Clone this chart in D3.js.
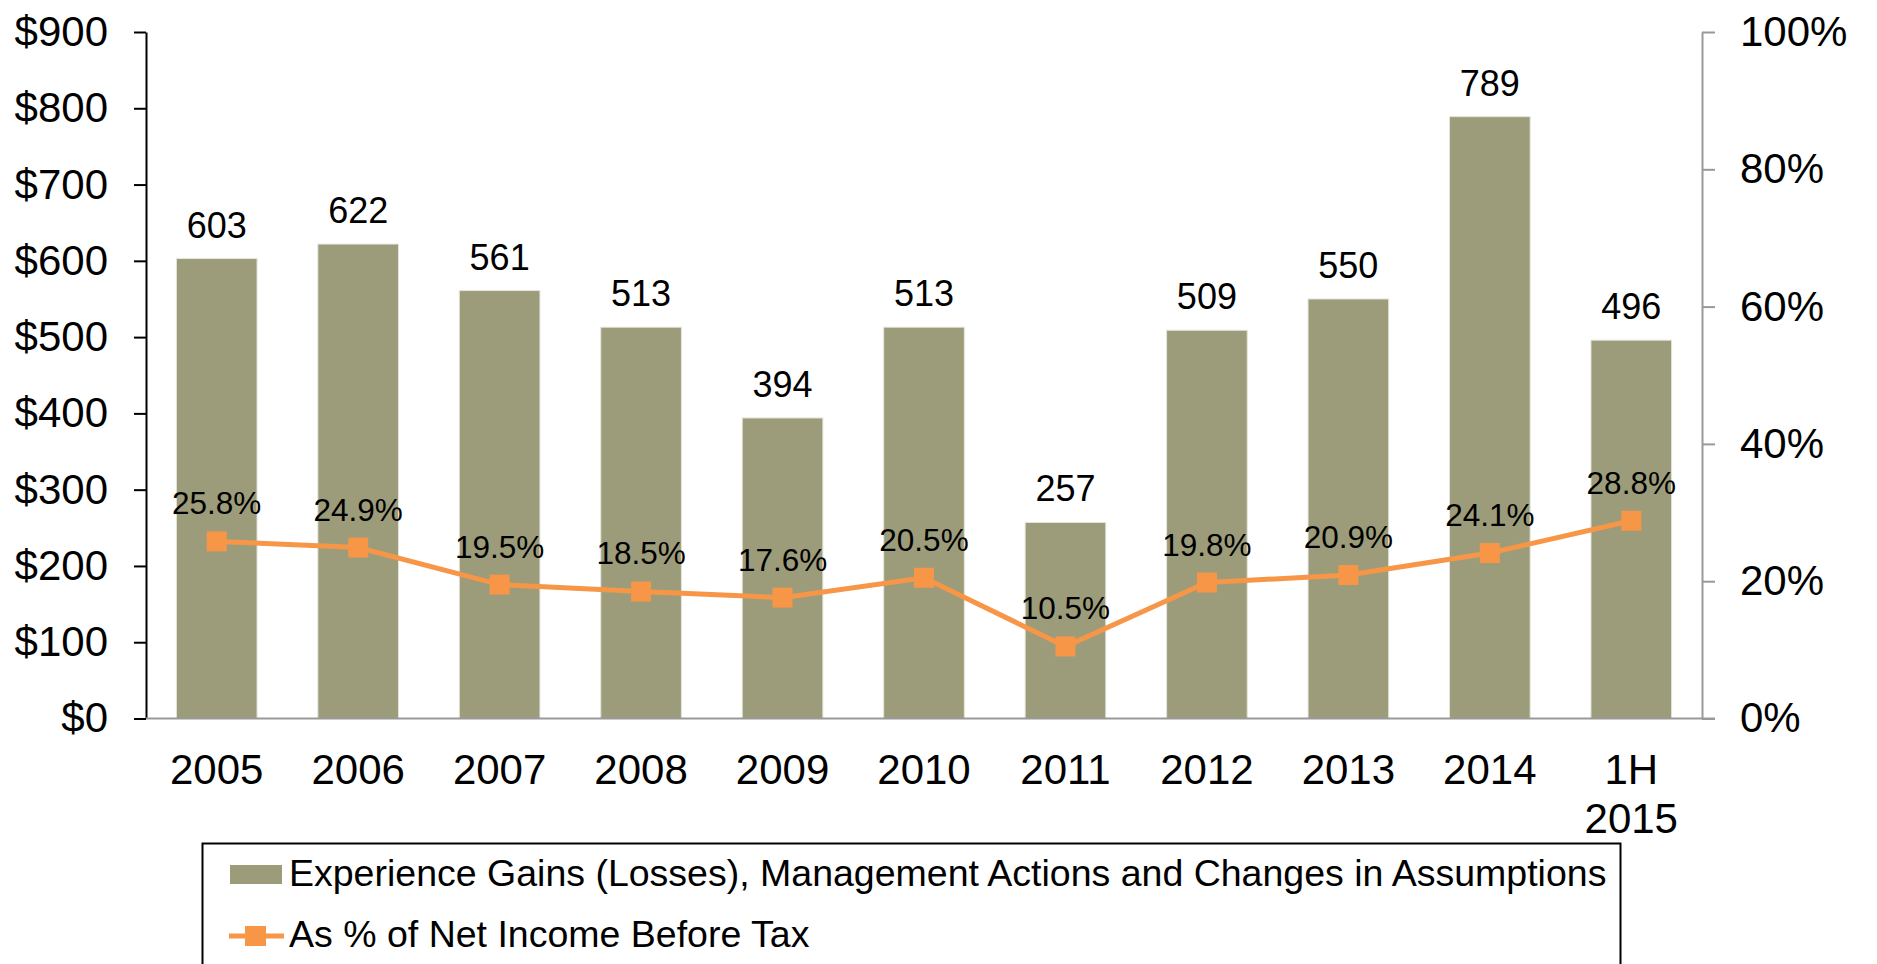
<!DOCTYPE html>
<html>
<head>
<meta charset="utf-8">
<script src="https://cdn.jsdelivr.net/npm/d3@7"></script>
<style>
  body { margin: 0; background: #fff; }
  text { font-family: "Liberation Sans", Arial, sans-serif; fill: #000; }
</style>
</head>
<body>
<script>
const years = ['2005', '2006', '2007', '2008', '2009', '2010', '2011', '2012', '2013', '2014', '1H 2015']
const gains = [603, 622, 561, 513, 394, 513, 257, 509, 550, 789, 496]
const pctNetIncome = [25.8, 24.9, 19.5, 18.5, 17.6, 20.5, 10.5, 19.8, 20.9, 24.1, 28.8]
const dollarTicks = [0, 100, 200, 300, 400, 500, 600, 700, 800, 900]
const pctTicks = [0, 20, 40, 60, 80, 100]

const width = 1877
const height = 964
const plotLeft = 146, plotRight = 1702, plotTop = 32, plotBottom = 718.5

const barColor = '#9c9c7a'
const lineColor = '#f79646'

const svg = d3.select('body').append('svg')
  .attr('width', width)
  .attr('height', height)

const x = d3.scaleBand()
  .domain(years)
  .range([plotLeft, plotRight])
  .paddingInner(0.43)
  .paddingOuter(0.215)

const y = d3.scaleLinear().domain([0, 900]).range([plotBottom, plotTop])
const y2 = d3.scaleLinear().domain([0, 100]).range([plotBottom, plotTop])

// bars
svg.selectAll('rect.bar')
  .data(gains)
  .enter().append('rect')
  .classed('bar', true)
  .attr('x', (d, i) => x(years[i]))
  .attr('y', d => y(d))
  .attr('width', x.bandwidth())
  .attr('height', d => y(0) - y(d))
  .attr('fill', barColor)
  .attr('stroke', '#e4e4dc')
  .attr('stroke-width', 1)

svg.selectAll('text.barlabel')
  .data(gains)
  .enter().append('text')
  .classed('barlabel', true)
  .attr('x', (d, i) => x(years[i]) + x.bandwidth() / 2)
  .attr('y', d => y(d) - 21)
  .attr('text-anchor', 'middle')
  .attr('font-size', 36)
  .text(d => d)

// left axis
const leftAxis = svg.append('g')
  .attr('transform', `translate(${plotLeft},0)`)
  .call(d3.axisLeft(y).tickValues(dollarTicks).tickSize(12).tickSizeOuter(0)
    .tickPadding(26).tickFormat(d => '$' + d))
leftAxis.selectAll('text').attr('font-size', 42).style('font-family', '"Liberation Sans", Arial, sans-serif')
leftAxis.selectAll('line, path').attr('stroke', '#000').attr('stroke-width', 2)

// right axis
const rightAxis = svg.append('g')
  .attr('transform', `translate(${plotRight},0)`)
  .call(d3.axisRight(y2).tickValues(pctTicks).tickSize(13).tickSizeOuter(0)
    .tickPadding(25).tickFormat(d => d + '%'))
rightAxis.selectAll('text').attr('font-size', 42).attr('fill', '#000').style('font-family', '"Liberation Sans", Arial, sans-serif')
rightAxis.selectAll('line, path').attr('stroke', '#999').attr('stroke-width', 2)

// bottom axis line
svg.append('line')
  .attr('x1', plotLeft).attr('x2', plotRight + 13)
  .attr('y1', y(0)).attr('y2', y(0))
  .attr('stroke', '#999').attr('stroke-width', 2)

// category labels
svg.selectAll('text.cat')
  .data(years)
  .enter().append('text')
  .classed('cat', true)
  .attr('text-anchor', 'middle')
  .attr('font-size', 42)
  .each(function (d) {
    const parts = d.split(' ')
    parts.forEach((p, j) => {
      d3.select(this).append('tspan')
        .attr('x', x(d) + x.bandwidth() / 2)
        .attr('y', 784 + j * 49)
        .text(p)
    })
  })

// line series
const line = d3.line()
  .x((d, i) => x(years[i]) + x.bandwidth() / 2)
  .y(d => y2(d))

svg.append('path')
  .datum(pctNetIncome)
  .attr('d', line)
  .attr('fill', 'none')
  .attr('stroke', lineColor)
  .attr('stroke-width', 5)

svg.selectAll('rect.marker')
  .data(pctNetIncome)
  .enter().append('rect')
  .classed('marker', true)
  .attr('x', (d, i) => x(years[i]) + x.bandwidth() / 2 - 10)
  .attr('y', d => y2(d) - 10)
  .attr('width', 20)
  .attr('height', 20)
  .attr('fill', lineColor)

svg.selectAll('text.pctlabel')
  .data(pctNetIncome)
  .enter().append('text')
  .classed('pctlabel', true)
  .attr('x', (d, i) => x(years[i]) + x.bandwidth() / 2)
  .attr('y', d => y2(d) - 27)
  .attr('text-anchor', 'middle')
  .attr('font-size', 31.5)
  .text(d => d.toFixed(1) + '%')

// legend
const legend = svg.append('g')
legend.append('rect')
  .attr('x', 202.5).attr('y', 843.5)
  .attr('width', 1418).attr('height', 200)
  .attr('fill', 'none').attr('stroke', '#000').attr('stroke-width', 2)

legend.append('rect')
  .attr('x', 230).attr('y', 865)
  .attr('width', 52).attr('height', 19)
  .attr('fill', barColor)
legend.append('text')
  .attr('x', 289).attr('y', 886)
  .attr('font-size', 37.5)
  .text('Experience Gains (Losses), Management Actions and Changes in Assumptions')

legend.append('line')
  .attr('x1', 229).attr('x2', 284)
  .attr('y1', 936).attr('y2', 936)
  .attr('stroke', lineColor).attr('stroke-width', 5)
legend.append('rect')
  .attr('x', 245).attr('y', 926)
  .attr('width', 21).attr('height', 20)
  .attr('fill', lineColor)
legend.append('text')
  .attr('x', 289).attr('y', 947)
  .attr('font-size', 37.5)
  .text('As % of Net Income Before Tax')
</script>
</body>
</html>
